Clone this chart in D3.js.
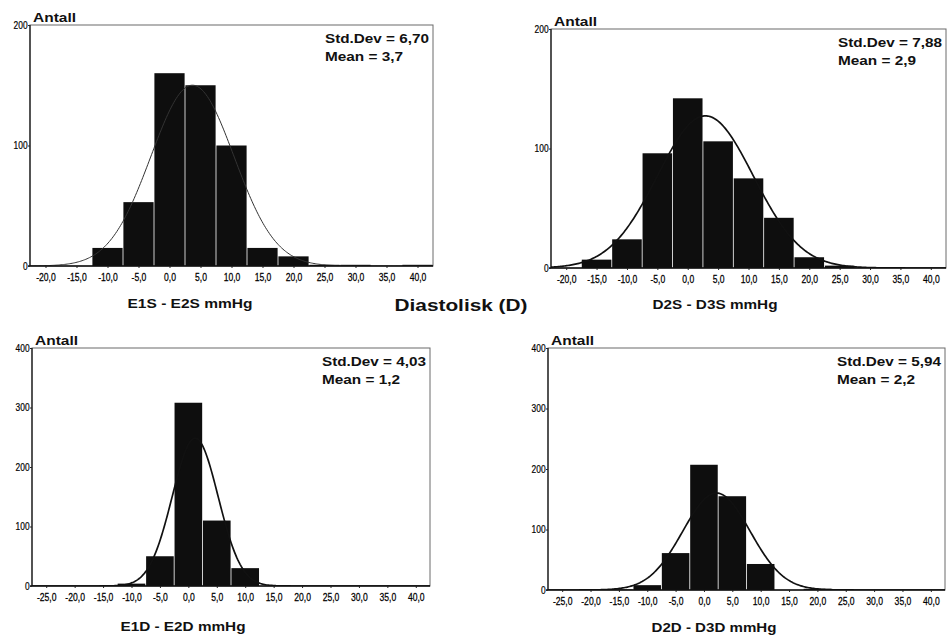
<!DOCTYPE html>
<html>
<head>
<meta charset="utf-8">
<script src="https://cdn.jsdelivr.net/npm/d3@7"></script>
<style>
  body { margin: 0; background: #fff; }
  svg { display: block; }
  text { font-family: "Liberation Sans", Arial, sans-serif; fill: #111; }
</style>
</head>
<body>
<svg id="chart" width="947" height="637"></svg>
<script>
// Histogram bins (5 mmHg wide, labelled by their centre)
const binCentersTop = [-20, -15, -10, -5, 0, 5, 10, 15, 20, 25, 30, 35, 40];
const binCentersBottom = [-25, -20, -15, -10, -5, 0, 5, 10, 15, 20, 25, 30, 35, 40];

// Counts per bin
const countsE1S = [0, 0, 15, 53, 160, 150, 100, 15, 8, 1, 1, 0, 1];
const countsD2S = [0, 7, 24, 96, 142, 106, 75, 42, 9, 2, 0, 0, 0];
const countsE1D = [0, 0, 0, 4, 50, 308, 110, 30, 0, 0, 0, 0, 0, 0];
const countsD2D = [0, 0, 1, 8, 61, 207, 155, 43, 0, 2, 0, 0, 0, 0];

// Axis ticks
const xTicksTop = [-20, -15, -10, -5, 0, 5, 10, 15, 20, 25, 30, 35, 40];
const xTicksBottom = [-25, -20, -15, -10, -5, 0, 5, 10, 15, 20, 25, 30, 35, 40];
const yTicksTop = [0, 100, 200];
const yTicksBottom = [0, 100, 200, 300, 400];

// Summary statistics printed in each panel (normal curve is fitted from these)
const stdDevs = [6.70, 7.88, 4.03, 5.94];
const means = [3.7, 2.9, 1.2, 2.2];

// Text
const axisTitles = ["E1S - E2S mmHg", "D2S - D3S mmHg", "E1D - E2D mmHg", "D2D - D3D mmHg"];
const yLabel = "Antall";
const sectionTitle = "Diastolisk (D)";
const binWidth = 5;

const locale = d3.formatLocale({ decimal: ",", thousands: ".", grouping: [3], currency: ["", ""], minus: "-" });
const fmtTick = locale.format(".1f");
const fmtSd = locale.format(".2f");
const fmtMean = locale.format(".1f");

const panels = [
  { centers: binCentersTop, counts: countsE1S, xTicks: xTicksTop, yTicks: yTicksTop,
    box: { l: 30, r: 433, t: 25, b: 266 }, titleX: 190, titleY: 308, curveW: 1.0, curveC: "#333" },
  { centers: binCentersTop, counts: countsD2S, xTicks: xTicksTop, yTicks: yTicksTop,
    box: { l: 551, r: 946, t: 29, b: 268 }, titleX: 715, titleY: 309, curveW: 1.7, curveC: "#111" },
  { centers: binCentersBottom, counts: countsE1D, xTicks: xTicksBottom, yTicks: yTicksBottom,
    box: { l: 32, r: 430, t: 348, b: 586 }, titleX: 183, titleY: 631, curveW: 1.7, curveC: "#111" },
  { centers: binCentersBottom, counts: countsD2D, xTicks: xTicksBottom, yTicks: yTicksBottom,
    box: { l: 548, r: 945, t: 348, b: 590 }, titleX: 714, titleY: 632, curveW: 1.7, curveC: "#111" }
];

const svg = d3.select("#chart");
svg.append("rect").attr("width", 947).attr("height", 637).attr("fill", "#fff");

panels.forEach((p, i) => {
  const { l, r, t, b } = p.box;
  const xt = p.xTicks;
  const x = d3.scaleLinear()
    .domain([xt[0] - binWidth / 2, xt[xt.length - 1] + binWidth / 2])
    .range([l, r]);
  const y = d3.scaleLinear()
    .domain([0, d3.max(p.yTicks)])
    .range([b, t]);

  const g = svg.append("g");

  g.append("clipPath").attr("id", "clip" + i)
    .append("rect").attr("x", l).attr("y", t).attr("width", r - l).attr("height", b - t);

  // frame
  g.append("rect")
    .attr("x", l).attr("y", t).attr("width", r - l).attr("height", b - t)
    .attr("fill", "none").attr("stroke", "#6a6a6a").attr("stroke-width", 1);

  // bars
  const bins = p.centers.map((c, k) => ({ c, n: p.counts[k] })).filter(d => d.n > 0);
  g.append("g").selectAll("rect").data(bins).join("rect")
    .attr("x", d => x(d.c - binWidth / 2) + 0.4)
    .attr("width", d => x(d.c + binWidth / 2) - x(d.c - binWidth / 2) - 0.8)
    .attr("y", d => y(d.n))
    .attr("height", d => y(0) - y(d.n))
    .attr("fill", "#0e0e0e");

  // fitted normal curve
  const N = d3.sum(p.counts);
  const sd = stdDevs[i], mu = means[i];
  const pts = d3.range(x.domain()[0], x.domain()[1] + 0.001, 0.2).map(v => {
    const z = (v - mu) / sd;
    return [v, N * binWidth * Math.exp(-0.5 * z * z) / (sd * Math.sqrt(2 * Math.PI))];
  });
  g.append("path")
    .attr("clip-path", "url(#clip" + i + ")")
    .attr("d", d3.line().x(d => x(d[0])).y(d => y(d[1]))(pts))
    .attr("fill", "none").attr("stroke", p.curveC).attr("stroke-width", p.curveW);

  // axes lines
  g.append("line").attr("x1", l).attr("x2", l).attr("y1", t).attr("y2", b)
    .attr("stroke", "#111").attr("stroke-width", 1.2);
  g.append("line").attr("x1", l - 2).attr("x2", r).attr("y1", b).attr("y2", b)
    .attr("stroke", "#111").attr("stroke-width", 1.4);

  // x axis
  const xa = g.append("g").attr("transform", `translate(0,${b})`)
    .call(d3.axisBottom(x).tickValues(xt).tickSize(2).tickFormat(fmtTick));
  xa.select(".domain").remove();
  xa.selectAll(".tick line").attr("stroke", "#222");
  xa.selectAll(".tick text")
    .attr("y", 15).attr("dy", null)
    .attr("transform", "scale(0.78,1)")
    .style("font-size", "11px").style("fill", "#000")
    .style("stroke", "#000").style("stroke-width", 0.25);

  // y axis
  const ya = g.append("g").attr("transform", `translate(${l},0)`)
    .call(d3.axisLeft(y).tickValues(p.yTicks).tickSize(2).tickPadding(1).tickFormat(d3.format("d")));
  ya.select(".domain").remove();
  ya.selectAll(".tick line").attr("stroke", "#222");
  ya.selectAll(".tick text")
    .attr("transform", "scale(0.8,1)")
    .style("font-size", "10.5px").style("fill", "#000")
    .style("stroke", "#000").style("stroke-width", 0.2);

  // y label
  g.append("text").attr("x", l + 3).attr("y", t - 3)
    .attr("textLength", 43).attr("lengthAdjust", "spacingAndGlyphs")
    .style("font-size", "12.5px").style("font-weight", "bold")
    .text(yLabel);

  // statistics
  g.append("text").attr("x", r - 108).attr("y", t + 18)
    .attr("textLength", 104).attr("lengthAdjust", "spacingAndGlyphs")
    .style("font-size", "12.5px").style("font-weight", "bold")
    .text("Std.Dev = " + fmtSd(sd));
  g.append("text").attr("x", r - 108).attr("y", t + 36)
    .attr("textLength", 78).attr("lengthAdjust", "spacingAndGlyphs")
    .style("font-size", "12.5px").style("font-weight", "bold")
    .text("Mean = " + fmtMean(mu));

  // axis title
  g.append("text").attr("x", p.titleX).attr("y", p.titleY)
    .attr("text-anchor", "middle")
    .attr("textLength", 125).attr("lengthAdjust", "spacingAndGlyphs")
    .style("font-size", "13px").style("font-weight", "bold")
    .text(axisTitles[i]);
});

svg.append("text").attr("x", 461).attr("y", 311)
  .attr("text-anchor", "middle")
  .attr("textLength", 133).attr("lengthAdjust", "spacingAndGlyphs")
  .style("font-size", "16.5px").style("font-weight", "bold")
  .text(sectionTitle);
</script>
</body>
</html>
